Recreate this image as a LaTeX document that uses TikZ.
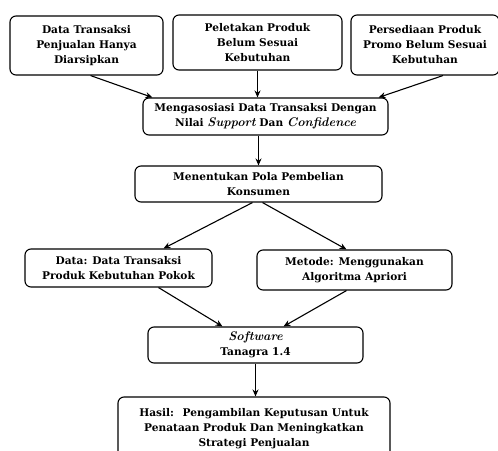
\documentclass[tikz,border=0pt]{standalone}
\usepackage{fontspec}
\setmainfont{DejaVu Serif}
\newfontfamily\slantfont{Latin Modern Roman}
\newcommand{\slanted}[1]{{\slantfont\fontsize{12.5}{15}\selectfont\itshape #1}}
\usetikzlibrary{arrows.meta}
\begin{document}
\begin{tikzpicture}[x=1pt,y=-1pt,
    box/.style={draw,line width=1.1pt,rounded corners=6pt,align=center,
        font=\fontsize{10.6}{15}\selectfont\bfseries,inner sep=2pt},
    arr/.style={line width=1.1pt,-{Stealth[length=7pt,width=6pt]}}]
    \useasboundingbox (0,0) rectangle (498,450);
    \node[box,minimum width=153pt,minimum height=59pt] (b1) at (86.5,45.5) {Data Transaksi\\Penjualan Hanya\\Diarsipkan};
    \node[box,minimum width=169pt,minimum height=55pt] (b2) at (257.5,42.5) {Peletakan Produk\\Belum Sesuai\\Kebutuhan};
    \node[box,minimum width=148pt,minimum height=60pt] (b3) at (425,45) {Persediaan Produk\\Promo Belum Sesuai\\Kebutuhan};
    \node[box,minimum width=245pt,minimum height=37pt] (b4) at (265.5,116.5) {Mengasosiasi Data Transaksi Dengan\\Nilai \slanted{Support} Dan \slanted{Confidence}};
    \node[box,minimum width=247pt,minimum height=36pt] (b5) at (258.5,184) {Menentukan Pola Pembelian\\Konsumen};
    \node[box,minimum width=187pt,minimum height=38pt] (b6) at (118.5,268) {Data: Data Transaksi\\Produk Kebutuhan Pokok};
    \node[box,minimum width=195pt,minimum height=40pt] (b7) at (354.5,270) {Metode: Menggunakan\\Algoritma Apriori};
    \node[box,minimum width=215pt,minimum height=36pt] (b8) at (255.5,345) {\slanted{Software}\\Tanagra 1.4};
    \node[box,minimum width=272pt,minimum height=64pt] (b9) at (254,429) {Hasil:~ Pengambilan Keputusan Untuk\\Penataan Produk Dan Meningkatkan\\Strategi Penjualan};
    \draw[arr] ([xshift=4pt]b1.south) -- ([xshift=10pt]b4.north west);
    \draw[arr] (b2.south) -- (b2.south |- b4.north);
    \draw[arr] ([xshift=18pt]b3.south) -- ([xshift=-10pt]b4.north east);
    \draw[arr] (b5.north |- b4.south) -- (b5.north);
    \draw[arr] ([xshift=-6pt]b5.south) -- ([xshift=45pt]b6.north);
    \draw[arr] ([xshift=4pt]b5.south) -- ([xshift=-8pt]b7.north);
    \draw[arr] ([xshift=40pt]b6.south) -- ([xshift=-33pt]b8.north);
    \draw[arr] ([xshift=-8pt]b7.south) -- ([xshift=28pt]b8.north);
    \draw[arr] (b8.south) -- (b8.south |- b9.north);
\end{tikzpicture}
\end{document}
